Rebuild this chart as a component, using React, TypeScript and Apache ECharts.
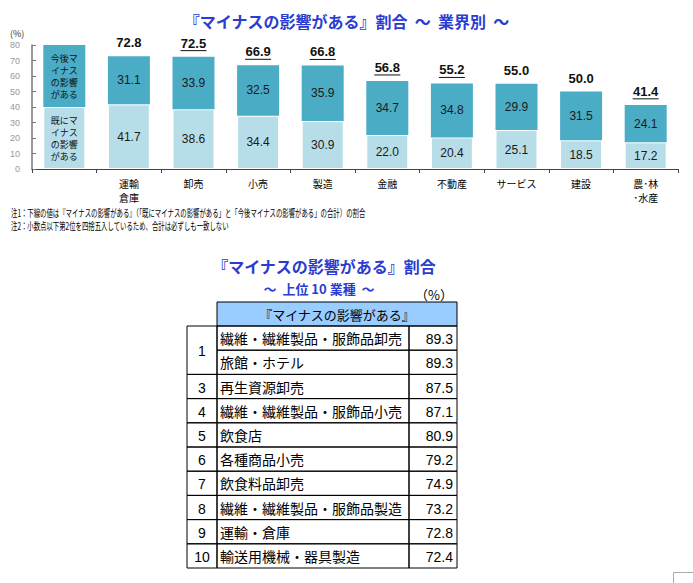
import React, { useEffect, useRef } from "react";
import * as echarts from "echarts";

const categories = ["", "運輸\n倉庫", "卸売", "小売", "製造", "金融", "不動産", "サービス", "建設", "農･林\n･水産"];
const futureValues = [40, 31.1, 33.9, 32.5, 35.9, 34.7, 34.8, 29.9, 31.5, 24.1];
const alreadyValues = [40, 41.7, 38.6, 34.4, 30.9, 22.0, 20.4, 25.1, 18.5, 17.2];
const totals = [null, 72.8, 72.5, 66.9, 66.8, 56.8, 55.2, 55.0, 50.0, 41.4];
const underlined = [false, false, true, true, true, true, true, false, false, true];
const legendFuture = "今後マ\nイナス\nの影響\nがある";
const legendAlready = "既にマ\nイナス\nの影響\nがある";

const chartTitle = "『マイナスの影響がある』割合  ～  業界別  ～";
const notes = [
  "注1：下線の値は『マイナスの影響がある』（「既にマイナスの影響がある」と「今後マイナスの影響がある」の合計）の割合",
  "注2：小数点以下第2位を四捨五入しているため、合計は必ずしも一致しない",
];

const tableTitle1 = "『マイナスの影響がある』割合";
const tableTitle2 = "～  上位 10 業種  ～";
const tableUnit = "（%）";
const tableHeader = "『マイナスの影響がある』";
const ranks = ["1", "", "3", "4", "5", "6", "7", "8", "9", "10"];
const industries = [
  "繊維・繊維製品・服飾品卸売",
  "旅館・ホテル",
  "再生資源卸売",
  "繊維・繊維製品・服飾品小売",
  "飲食店",
  "各種商品小売",
  "飲食料品卸売",
  "繊維・繊維製品・服飾品製造",
  "運輸・倉庫",
  "輸送用機械・器具製造",
];
const shares = [89.3, 89.3, 87.5, 87.1, 80.9, 79.2, 74.9, 73.2, 72.8, 72.4];

const JP = '"Noto Sans CJK JP", sans-serif';
const NUM = '"Liberation Sans", Arial, sans-serif';
const BLUE = "#2b3cd0";
const DARK = "#4bacc6";
const LIGHT = "#b7dee8";

export default function App() {
  const ref = useRef<HTMLDivElement>(null);
  useEffect(() => {
    document.body.style.margin = "0";
    const chart = echarts.init(ref.current!, null, { renderer: "svg" });

    const legendLabel = (text: string) => ({
      show: true,
      formatter: text,
      fontFamily: JP,
      fontSize: 9,
      lineHeight: 12,
      color: "#111",
    });

    const futureData = futureValues.map((v, i) =>
      i === 0 ? { value: v, label: legendLabel(legendFuture) } : { value: v }
    );
    const alreadyData = alreadyValues.map((v, i) =>
      i === 0 ? { value: v, label: legendLabel(legendAlready) } : { value: v }
    );

    // table graphics
    const x0 = 187, x1 = 217, x2 = 409, x3 = 457;
    const hTop = 302, rowH = 24.2, rowsTop = 326;
    const tableEls: any[] = [];
    tableEls.push({
      type: "rect",
      shape: { x: x1, y: hTop, width: x3 - x1, height: rowsTop - hTop },
      style: { fill: "#99ccff", stroke: "#000", lineWidth: 1 },
    });
    tableEls.push({
      type: "text",
      x: (x1 + x3) / 2,
      y: (hTop + rowsTop) / 2,
      style: { text: tableHeader, font: `13px ${JP}`, fill: "#000", align: "center", verticalAlign: "middle" },
    });
    industries.forEach((name, i) => {
      const y = rowsTop + i * rowH;
      tableEls.push({
        type: "rect",
        shape: { x: x1, y, width: x2 - x1, height: rowH },
        style: { fill: "none", stroke: "#000", lineWidth: 1 },
      });
      tableEls.push({
        type: "rect",
        shape: { x: x2, y, width: x3 - x2, height: rowH },
        style: { fill: "none", stroke: "#000", lineWidth: 1 },
      });
      tableEls.push({
        type: "text",
        x: x1 + 3,
        y: y + rowH / 2,
        style: { text: name, font: `14px ${JP}`, fill: "#000", align: "left", verticalAlign: "middle" },
      });
      tableEls.push({
        type: "text",
        x: x3 - 4,
        y: y + rowH / 2 + 1,
        style: { text: shares[i].toFixed(1), font: `14px ${NUM}`, fill: "#000", align: "right", verticalAlign: "middle" },
      });
      if (ranks[i] !== "") {
        const span = i + 1 < ranks.length && ranks[i + 1] === "" ? 2 : 1;
        tableEls.push({
          type: "rect",
          shape: { x: x0, y, width: x1 - x0, height: rowH * span },
          style: { fill: "none", stroke: "#000", lineWidth: 1 },
        });
        tableEls.push({
          type: "text",
          x: (x0 + x1) / 2,
          y: y + (rowH * span) / 2 + 1,
          style: { text: ranks[i], font: `14px ${NUM}`, fill: "#000", align: "center", verticalAlign: "middle" },
        });
      }
    });

    const option: any = {
      animation: false,
      backgroundColor: "#fff",
      title: {
        text: chartTitle,
        left: "center",
        top: 8,
        textStyle: { fontFamily: JP, fontSize: 16, fontWeight: "bold", color: BLUE },
      },
      grid: { left: 32, right: 15, top: 45, height: 124 },
      xAxis: {
        type: "category",
        data: categories,
        axisLine: { lineStyle: { color: "#444", width: 1 } },
        axisTick: { show: true, length: 4, lineStyle: { color: "#444" } },
        axisLabel: { fontFamily: JP, fontSize: 10, color: "#000", lineHeight: 14, margin: 7, interval: 0 },
      },
      yAxis: {
        type: "value",
        min: 0,
        max: 80,
        interval: 10,
        splitLine: { show: false },
        axisLine: { show: true, lineStyle: { color: "#777", width: 1.5 } },
        axisTick: { show: true, inside: true, length: 4, lineStyle: { color: "#777" } },
        axisLabel: { fontFamily: NUM, fontSize: 9, color: "#999", margin: 12 },
      },
      series: [
        {
          type: "bar",
          stack: "total",
          data: alreadyData,
          barWidth: 42,
          itemStyle: { color: LIGHT, borderColor: "#fff", borderWidth: 1 },
          label: {
            show: true,
            position: "inside",
            formatter: (p: any) => Number(p.value).toFixed(1),
            fontFamily: NUM,
            fontSize: 12,
            color: "#1a1a1a",
          },
        },
        {
          type: "bar",
          stack: "total",
          data: futureData,
          barWidth: 42,
          itemStyle: { color: DARK },
          label: {
            show: true,
            position: "inside",
            formatter: (p: any) => Number(p.value).toFixed(1),
            fontFamily: NUM,
            fontSize: 12,
            color: "#1a1a1a",
          },
        },
        {
          type: "custom",
          coordinateSystem: "cartesian2d",
          data: totals.map((t, i) => (t === null ? [i, "-"] : [i, t])),
          encode: { x: 0, y: 1 },
          z: 10,
          renderItem: (params: any, api: any) => {
            const idx = params.dataIndex;
            const t = totals[idx];
            if (t === null) return null;
            const pt = api.coord([api.value(0), api.value(1)]);
            const children: any[] = [
              {
                type: "text",
                x: pt[0],
                y: pt[1] - 7,
                style: {
                  text: t.toFixed(1),
                  font: `bold 13px ${NUM}`,
                  fill: "#111",
                  align: "center",
                  verticalAlign: "bottom",
                },
              },
            ];
            if (underlined[idx]) {
              children.push({
                type: "line",
                shape: { x1: pt[0] - 13, y1: pt[1] - 6, x2: pt[0] + 13, y2: pt[1] - 6 },
                style: { stroke: "#111", lineWidth: 1 },
              });
            }
            return { type: "group", children };
          },
        },
      ],
      graphic: [
        {
          type: "text",
          x: 10,
          y: 33,
          style: { text: "(%)", font: `9px ${JP}`, fill: "#333", align: "left", verticalAlign: "middle" },
        },
        ...notes.map((n, i) => ({
          type: "text",
          x: 11,
          y: 212 + i * 13,
          scaleX: 0.64,
          style: { text: n, font: `10px ${JP}`, fill: "#000", align: "left", verticalAlign: "middle" },
        })),
        {
          type: "text",
          x: 324,
          y: 266,
          style: { text: tableTitle1, font: `bold 16px ${JP}`, fill: BLUE, align: "center", verticalAlign: "middle" },
        },
        {
          type: "text",
          x: 319,
          y: 288,
          style: { text: tableTitle2, font: `bold 13px ${JP}`, fill: BLUE, align: "center", verticalAlign: "middle" },
        },
        {
          type: "text",
          x: 434,
          y: 294,
          style: { text: tableUnit, font: `13px ${JP}`, fill: "#000", align: "center", verticalAlign: "middle" },
        },
        ...tableEls,
        {
          type: "rect",
          shape: { x: 673.5, y: 572.5, width: 40, height: 30 },
          style: { fill: "none", stroke: "#aaa", lineWidth: 1 },
        },
      ],
    };
    chart.setOption(option);
    return () => chart.dispose();
  }, []);
  return <div ref={ref} style={{ width: 693, height: 583 }} />;
}
